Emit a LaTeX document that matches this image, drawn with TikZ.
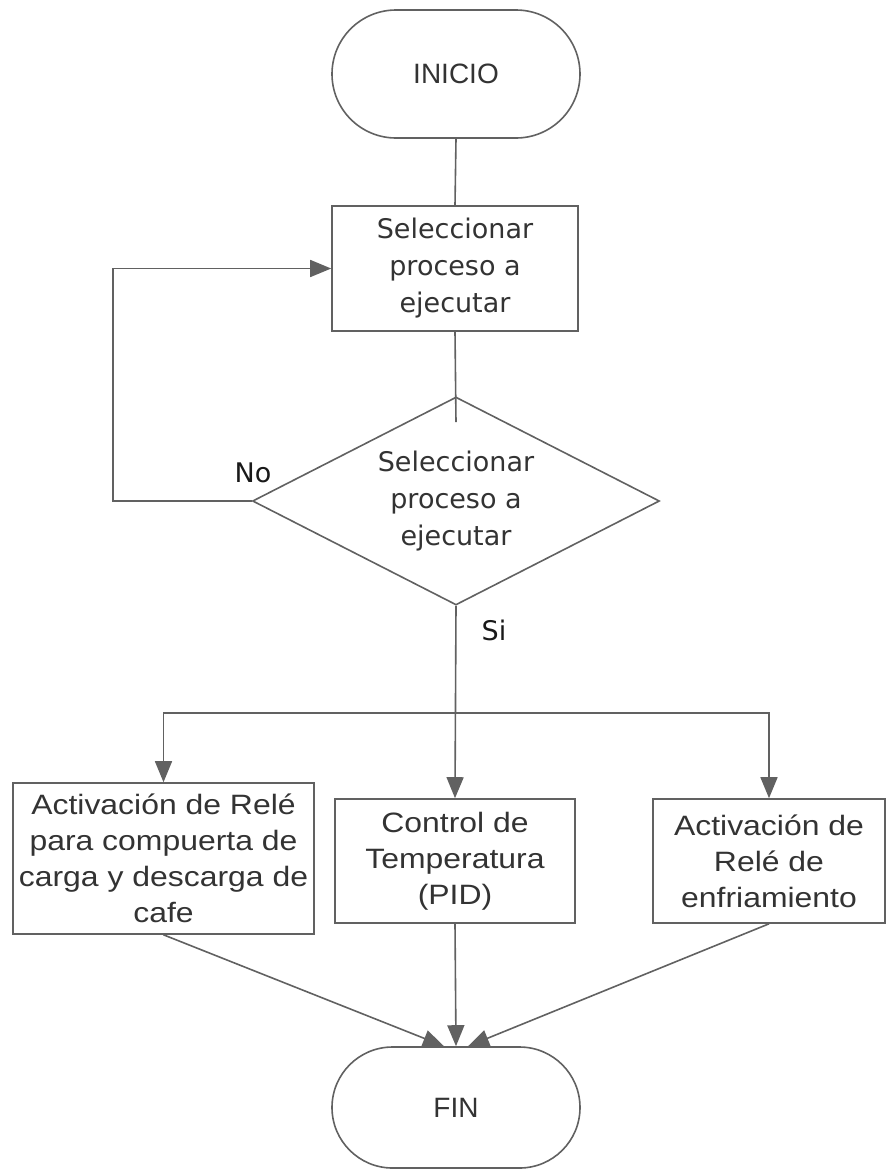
\documentclass[tikz,border=0pt]{standalone}
\usepackage{fontspec}
\setmainfont{DejaVu Sans}
\newfontfamily\termfont{Liberation Sans}
\newfontfamily\boxfont[FakeStretch=1.14]{Liberation Sans}
\usetikzlibrary{shapes.geometric,shapes.misc,arrows.meta,calc}

\tikzset{
  base/.style={draw=black!62, line width=1.6pt, text=black!80, align=center, inner sep=0pt},
  terminal/.style={base, rounded rectangle, minimum width=248pt,
    font=\termfont\fontsize{28}{36}\selectfont},
  procbox/.style={base, rectangle, font=\fontsize{27}{37}\selectfont},
  actbox/.style={base, rectangle, font=\boxfont\fontsize{28}{36}\selectfont},
  decision/.style={base, diamond, aspect=2, minimum width=407pt, minimum height=208pt,
    font=\fontsize{27}{37}\selectfont},
  flow/.style={draw=black!62, line width=1.6pt},
  arr/.style={flow, -{Triangle[length=21pt,width=17pt]}, color=black!62},
  lbl/.style={text=black!90, font=\fontsize{27}{32}\selectfont, inner sep=0pt}
}

\begin{document}
\begin{tikzpicture}[x=1pt, y=-1pt]
  \useasboundingbox (0,0) rectangle (886,1171);

  % start / end terminals
  \node[terminal, minimum height=128pt] (inicio) at (456,74) {INICIO};
  \node[terminal, minimum height=121pt] (fin) at (456,1107.5) {FIN};

  % process selection and decision
  \node[procbox, minimum width=246pt, minimum height=125pt] (sel) at (455,268.5)
    {Seleccionar\\proceso a\\ejecutar};
  \node[decision] (dec) at (456,501) {Seleccionar\\proceso a\\ejecutar};

  % the three actions
  \node[actbox, minimum width=301pt, minimum height=151pt] (lbox) at (163.5,858.5)
    {Activación de Relé\\para compuerta de\\carga y descarga de\\cafe};
  \node[actbox, minimum width=240pt, minimum height=124pt] (mbox) at (455,861)
    {Control de\\Temperatura\\(PID)};
  \node[actbox, minimum width=232pt, minimum height=124pt] (rbox) at (769,861)
    {Activación de\\Relé de\\enfriamiento};

  % branch labels
  \node[lbl] (no) at (253,473) {No};
  \node[lbl] (si) at (494,630) {Si};

  % helper points
  \coordinate (loop) at (113,501);
  \coordinate (split) at (456,713);
  \coordinate (finL) at ($(fin.north)+(-12,0)$);
  \coordinate (finR) at ($(fin.north)+(12,0)$);
  \coordinate (decin) at ($(dec.north)+(0,26)$);

  % connectors
  \draw[flow] (inicio.south) -- (sel.north);
  \draw[flow] (sel.south) -- (decin);
  \draw[arr] (dec.west) -- (dec.west -| loop) |- (sel.west);
  \draw[arr] (dec.south) -- (mbox.north);
  \draw[arr] (split) -| (lbox.north);
  \draw[arr] (split) -| (rbox.north);
  \draw[arr] (lbox.south) -- (finL);
  \draw[arr] (mbox.south) -- (fin.north);
  \draw[arr] (rbox.south) -- (finR);
\end{tikzpicture}
\end{document}
